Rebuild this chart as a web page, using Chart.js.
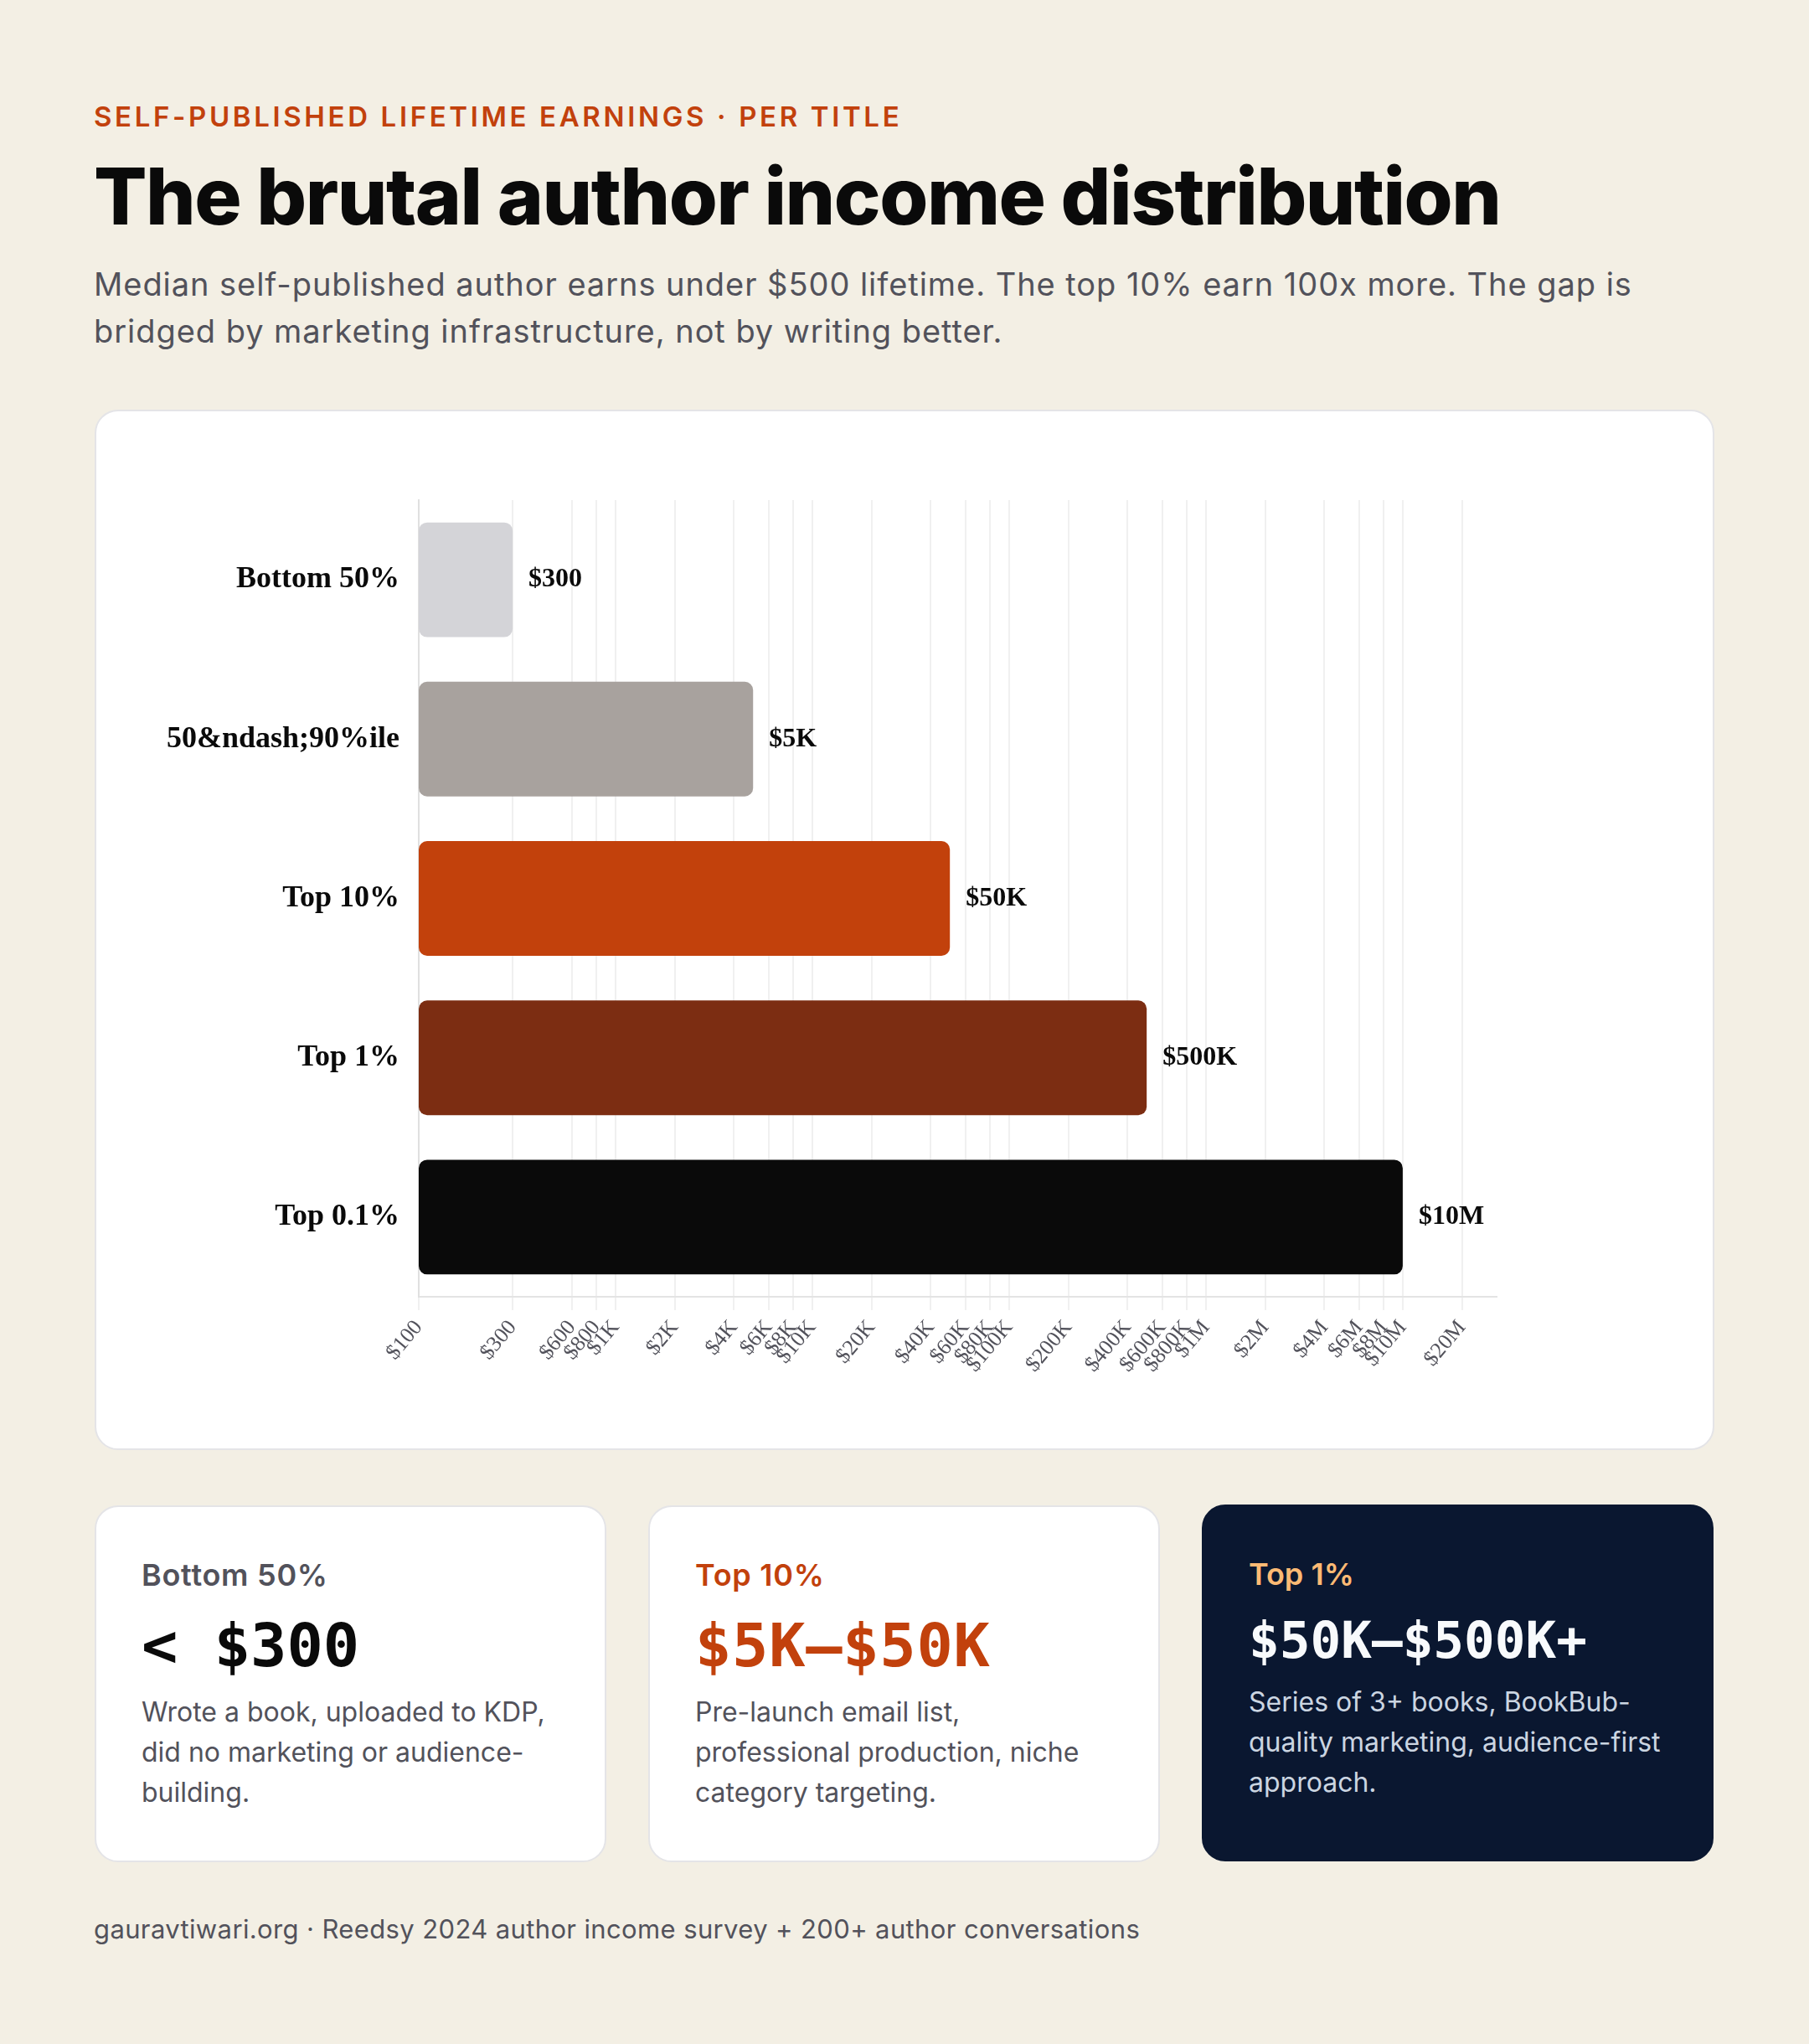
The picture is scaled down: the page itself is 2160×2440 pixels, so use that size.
<!DOCTYPE html>
<html>
<head>
<meta charset="utf-8">
<script src="https://cdn.jsdelivr.net/npm/chart.js@4.4.1/dist/chart.umd.min.js"></script>
<style>
  html, body { margin: 0; padding: 0; }
  body {
    width: 2160px; height: 2440px; background: #f3efe4;
    font-family: Inter, "Noto Sans", sans-serif; position: relative; overflow: hidden;
  }
  .abs { position: absolute; left: 112px; }
  .eyebrow { top: 123px; font-size: 33px; line-height: 1; font-weight: 600; color: #c2410c; letter-spacing: 0.11em; white-space: nowrap; }
  h1 { margin: 0; top: 187px; font-size: 94px; line-height: 1; font-weight: 800; color: #0a0a0a; letter-spacing: -0.016em; white-space: nowrap; }
  .sub { margin: 0; top: 311px; width: 1900px; font-size: 38px; line-height: 56px; color: #52525b; letter-spacing: 0.025em; }
  .chart-card {
    position: absolute; left: 113px; top: 489px; width: 1930px; height: 1238px;
    background: #fff; border: 2px solid #e4e4e7; border-radius: 28px;
  }
  .chart-box { position: absolute; left: 0; top: 0; width: 1930px; height: 1238px; }
  .cards { position: absolute; left: 113px; top: 1797px; display: flex; gap: 50px; }
  .card {
    width: 611px; height: 426px; box-sizing: border-box; padding: 63px 54px 0 54px;
    background: #fff; border: 2px solid #e4e4e7; border-radius: 28px;
  }
  .card.dark { background: #0a1730; border-color: #0a1730; margin-top: -1px; }
  .card .lbl { font-size: 36px; line-height: 1; font-weight: 600; color: #52525b; letter-spacing: 0.02em; }
  .card .val { margin-top: 30px; font-family: "DejaVu Sans Mono", monospace; font-size: 72px; line-height: 1; font-weight: 700; color: #0a0a0a; white-space: nowrap; }
  .card .desc { margin-top: 20px; font-size: 32px; line-height: 48px; color: #52525b; }
  .card.mid .lbl, .card.mid .val { color: #c2410c; }
  .card.mid .val { letter-spacing: 0.01em; }
  .card.dark .lbl { color: #fdba74; letter-spacing: 0; }
  .card.dark .val { color: #f8fafc; font-size: 61px; }
  .card.dark .desc { color: #cbd5e1; }
  .foot { top: 2287px; font-size: 31px; line-height: 1; color: #52525b; white-space: nowrap; letter-spacing: 0.012em; }
</style>
</head>
<body>
<div class="abs eyebrow">SELF-PUBLISHED LIFETIME EARNINGS · PER TITLE</div>
<h1 class="abs">The brutal author income distribution</h1>
<p class="abs sub">Median self-published author earns under $500 lifetime. The top 10% earn 100x more. The gap is bridged by marketing infrastructure, not by writing better.</p>

<div class="chart-card">
  <div class="chart-box"><canvas id="myChart"></canvas></div>
</div>

<div class="cards">
  <div class="card">
    <div class="lbl">Bottom 50%</div>
    <div class="val">&lt; $300</div>
    <div class="desc">Wrote a book, uploaded to KDP, did no marketing or audience-building.</div>
  </div>
  <div class="card mid">
    <div class="lbl">Top 10%</div>
    <div class="val">$5K–$50K</div>
    <div class="desc">Pre-launch email list, professional production, niche category targeting.</div>
  </div>
  <div class="card dark">
    <div class="lbl">Top 1%</div>
    <div class="val">$50K–$500K+</div>
    <div class="desc">Series of 3+ books, BookBub-quality marketing, audience-first approach.</div>
  </div>
</div>

<div class="abs foot">gauravtiwari.org · Reedsy 2024 author income survey + 200+ author conversations</div>

<script>
// tiers and lifetime earnings per title
let tiers = ['Bottom 50%', '50&ndash;90%ile', 'Top 10%', 'Top 1%', 'Top 0.1%']
let earnings = [300, 5000, 50000, 500000, 10000000]
let barColors = ['#d4d4d8', '#a8a29e', '#c2410c', '#7c2d12', '#0a0a0a']

// x axis ticks that survive on the log axis
let tickValues = [100, 300, 600, 800, 1000, 2000, 4000, 6000, 8000, 10000,
  20000, 40000, 60000, 80000, 100000, 200000, 400000, 600000, 800000,
  1000000, 2000000, 4000000, 6000000, 8000000, 10000000, 20000000]
let axisMin = 100
let axisMax = 30000000

function money(v) {
  if (v >= 1e6) return '$' + (v / 1e6) + 'M'
  if (v >= 1e3) return '$' + (v / 1e3) + 'K'
  return '$' + v
}

// draw "$300" etc. at the end of each bar
const valueLabels = {
  id: 'valueLabels',
  afterDatasetsDraw(chart) {
    let ctx = chart.ctx
    let meta = chart.getDatasetMeta(0)
    ctx.save()
    ctx.font = 'bold 32px "Liberation Serif", "Times New Roman", serif'
    ctx.fillStyle = '#0a0a0a'
    ctx.textAlign = 'left'
    ctx.textBaseline = 'middle'
    meta.data.forEach((bar, i) => {
      ctx.fillText(money(earnings[i]), bar.x + 19, bar.y)
    })
    ctx.restore()
  }
}

let canvas = document.getElementById('myChart')
let ctx = canvas.getContext('2d')
let myChart = new Chart(ctx, {
  type: 'bar',
  data: {
    labels: tiers,
    datasets: [{
      data: earnings,
      backgroundColor: barColors,
      borderRadius: 10,
      borderSkipped: false
    }]
  },
  options: {
    indexAxis: 'y',
    responsive: true,
    maintainAspectRatio: false,
    animation: false,
    layout: { padding: { top: 106, right: 258, left: 0, bottom: 0 } },
    plugins: { legend: { display: false }, tooltip: { enabled: false } },
    scales: {
      x: {
        type: 'logarithmic',
        min: axisMin,
        max: axisMax,
        afterBuildTicks: scale => { scale.ticks = tickValues.map(v => ({ value: v })) },
        afterFit: scale => { scale.height = 181 },
        grid: { color: '#f0f0f0', lineWidth: 2, tickLength: 16 },
        border: { color: '#e4e4e4', width: 2 },
        ticks: {
          autoSkip: false,
          minRotation: 50,
          maxRotation: 50,
          padding: 6,
          color: '#52525b',
          font: { family: '"Liberation Serif", "Times New Roman", serif', size: 26 },
          callback: v => money(v)
        }
      },
      y: {
        afterFit: scale => { scale.width = 385 },
        grid: { display: false },
        border: { color: '#e0e0e0', width: 2 },
        ticks: {
          padding: 15,
          color: '#0a0a0a',
          font: { family: '"Liberation Serif", "Times New Roman", serif', size: 36, weight: 'bold' }
        }
      }
    }
  },
  plugins: [valueLabels]
})
</script>
</body>
</html>
